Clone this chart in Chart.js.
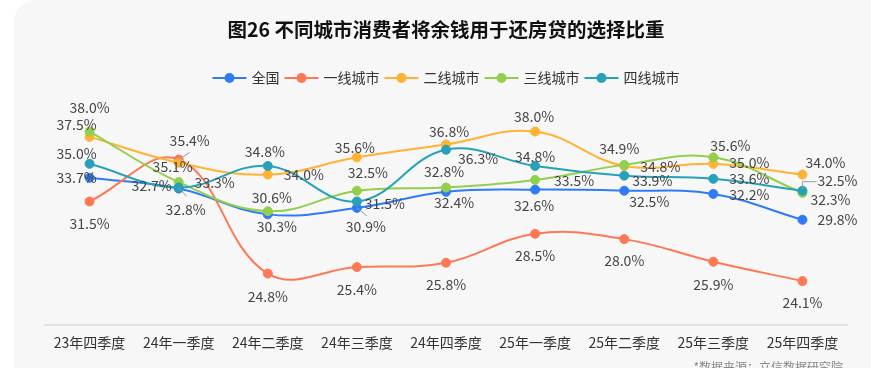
<!DOCTYPE html>
<html>
<head>
<meta charset="utf-8">
<script src="https://cdn.jsdelivr.net/npm/chart.js@4.4.1/dist/chart.umd.min.js"></script>
<style>
  html, body { margin: 0; padding: 0; background: #fff; }
  #wrap { position: relative; width: 871px; height: 368px; overflow: hidden; }
  #card { position: absolute; left: 14px; top: 0; width: 900px; height: 420px; background: #f7f7f7; border-radius: 22px; }
  #myChart { position: absolute; left: 0; top: 0; }
</style>
</head>
<body>
<div id="wrap">
  <div id="card"></div>
  <canvas id="myChart" width="871" height="368" style="width:871px;height:368px"></canvas>
</div>
<script>
const quarters = ['23年四季度', '24年一季度', '24年二季度', '24年三季度', '24年四季度', '25年一季度', '25年二季度', '25年三季度', '25年四季度'];

const national = [33.7, 32.7, 30.3, 30.9, 32.4, 32.6, 32.5, 32.2, 29.8];
const tier1 = [31.5, 35.4, 24.8, 25.4, 25.8, 28.5, 28.0, 25.9, 24.1];
const tier2 = [37.5, 35.1, 34.0, 35.6, 36.8, 38.0, 34.8, 35.0, 34.0];
const tier3 = [38.0, 33.3, 30.6, 32.5, 32.8, 33.5, 34.9, 35.6, 32.3];
const tier4 = [35.0, 32.8, 34.8, 31.5, 36.3, 34.8, 33.9, 33.6, 32.5];

const seriesNames = ['全国', '一线城市', '二线城市', '三线城市', '四线城市'];
const colors = ['#2f7bf6', '#ff7856', '#ffb233', '#92cf4c', '#27a1b7'];

const FONT = '"Noto Sans CJK SC", "Noto Sans", sans-serif';

// label offsets from each point (dx, dy), per series
const labelOffsets = [
  [[-13, 0], [-27, -3], [9, 12], [9, 19], [8, 11], [-1, 16], [25, 11], [36, 1], [35, 0]],
  [[0, 22], [11, -19], [0, 23], [0, 23], [0, 22], [0, 22], [0, 22], [0, 23], [0, 22]],
  [[-13, -12], [-6, 4], [36, 0], [-2, -10], [3, -13], [-1, -15], [36, 1], [36, -1], [23, -12]],
  [[0, -24], [36, 1], [4, -13], [11, -18], [-2, -16], [39, 1], [-5, -16], [17, -12], [28, 7]],
  [[-13, -10], [7, 22], [-3, -14], [28, 2], [32, 9], [0, -9], [28, 5], [36, 0], [35, -10]]
];

// little guide lines from point to label
const leaders = [
  { ds: 1, i: 1, pts: [[0, 0], [11, -7]] },
  { ds: 4, i: 1, pts: [[0, 0], [8, 9]] },
  { ds: 0, i: 3, pts: [[0, 0], [10, 8]] },
  { ds: 4, i: 8, pts: [[0, -2], [0, -9], [14, -9]] }
];

const labelsPlugin = {
  id: 'pointLabels',
  afterDatasetsDraw(chart) {
    const ctx = chart.ctx;
    ctx.save();
    ctx.strokeStyle = '#9a9a9a';
    ctx.lineWidth = 1;
    leaders.forEach(l => {
      const p = chart.getDatasetMeta(l.ds).data[l.i];
      ctx.beginPath();
      l.pts.forEach((o, k) => {
        if (k === 0) ctx.moveTo(p.x + o[0], p.y + o[1]);
        else ctx.lineTo(p.x + o[0], p.y + o[1]);
      });
      ctx.stroke();
    });
    ctx.font = '14px ' + FONT;
    ctx.fillStyle = '#444';
    ctx.textAlign = 'center';
    ctx.textBaseline = 'middle';
    chart.data.datasets.forEach((ds, d) => {
      chart.getDatasetMeta(d).data.forEach((p, i) => {
        const o = labelOffsets[d][i];
        ctx.fillText(ds.data[i].toFixed(1) + '%', p.x + o[0], p.y + o[1]);
      });
    });
    ctx.restore();
  }
};

const legendPlugin = {
  id: 'lineLegend',
  afterDraw(chart) {
    const ctx = chart.ctx;
    const area = chart.chartArea;
    ctx.save();
    ctx.font = '14px ' + FONT;
    const widths = seriesNames.map(n => 34 + 5 + ctx.measureText(n).width);
    const total = widths.reduce((a, b) => a + b, 0) + 5 * (seriesNames.length - 1);
    let x = (area.left + area.right) / 2 - total / 2;
    const y = 78;
    seriesNames.forEach((n, k) => {
      ctx.strokeStyle = colors[k];
      ctx.lineWidth = 2;
      ctx.beginPath();
      ctx.moveTo(x, y);
      ctx.lineTo(x + 34, y);
      ctx.stroke();
      ctx.fillStyle = colors[k];
      ctx.beginPath();
      ctx.arc(x + 17, y, 5, 0, Math.PI * 2);
      ctx.fill();
      ctx.fillStyle = '#333';
      ctx.textAlign = 'left';
      ctx.textBaseline = 'middle';
      ctx.fillText(n, x + 39, y);
      x += widths[k] + 5;
    });
    // source note
    ctx.font = '12px ' + FONT;
    ctx.fillStyle = '#888';
    ctx.textAlign = 'right';
    ctx.textBaseline = 'top';
    ctx.fillText('*数据来源：立信数据研究院', 843, 361);
    ctx.restore();
  }
};

const allSeries = [national, tier1, tier2, tier3, tier4];

const ctx = document.getElementById('myChart').getContext('2d');
const chart = new Chart(ctx, {
  type: 'line',
  data: {
    labels: quarters,
    datasets: allSeries.map((s, k) => ({
      label: seriesNames[k],
      data: s,
      borderColor: colors[k],
      backgroundColor: colors[k],
      pointBackgroundColor: colors[k],
      pointBorderColor: colors[k],
      pointBorderWidth: 1,
      pointRadius: 4.5,
      borderWidth: 2,
      tension: 0.4,
      order: allSeries.length - 1 - k
    }))
  },
  options: {
    responsive: false,
    animation: false,
    layout: { padding: { left: 45, right: 24, top: 0, bottom: 8 } },
    plugins: {
      legend: { display: false },
      tooltip: { enabled: false },
      title: {
        display: true,
        text: '图26 不同城市消费者将余钱用于还房贷的选择比重',
        color: '#111',
        font: { family: FONT, size: 19.5, weight: 'bold', lineHeight: 1.2 },
        padding: { top: 18.3, bottom: 68.3 }
      }
    },
    scales: {
      x: {
        offset: true,
        grid: { display: false, drawTicks: false },
        border: { display: true, color: '#e2e2e2', width: 2 },
        ticks: { color: '#333', padding: 9, font: { family: FONT, size: 14 } }
      },
      y: {
        display: false,
        min: 20,
        max: 40
      }
    }
  },
  plugins: [labelsPlugin, legendPlugin]
});
</script>
</body>
</html>
